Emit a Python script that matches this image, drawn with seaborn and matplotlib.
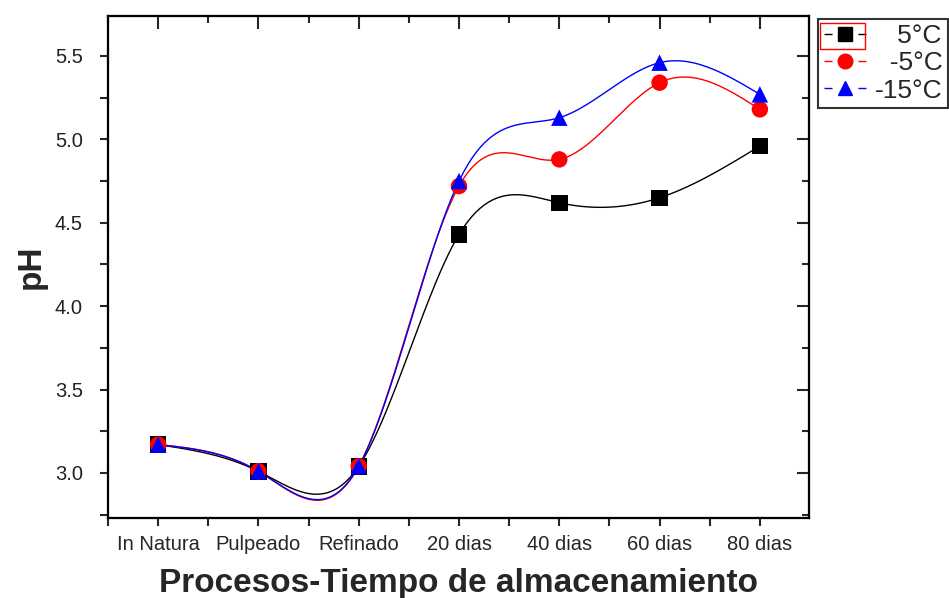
import numpy as np
import pandas as pd
import matplotlib
matplotlib.use("Agg")
import matplotlib.pyplot as plt
import seaborn as sns
from matplotlib.lines import Line2D
from matplotlib.patches import Rectangle
from matplotlib.ticker import MultipleLocator, FormatStrFormatter

categories = ["In Natura", "Pulpeado", "Refinado", "20 dias", "40 dias", "60 dias", "80 dias"]
ph_5 = [3.17, 3.01, 3.04, 4.43, 4.62, 4.65, 4.96]
ph_m5 = [3.17, 3.01, 3.04, 4.72, 4.88, 5.34, 5.18]
ph_m15 = [3.17, 3.01, 3.04, 4.75, 5.13, 5.46, 5.27]
series_names = ["5°C", "-5°C", "-15°C"]


def natural_spline(x, y, n=300):
    # natural cubic spline, like the smooth curve origin draws through the points
    x = np.asarray(x, float)
    y = np.asarray(y, float)
    k = len(x)
    h = np.diff(x)
    A = np.zeros((k, k))
    b = np.zeros(k)
    A[0, 0] = A[-1, -1] = 1
    for i in range(1, k - 1):
        A[i, i - 1] = h[i - 1]
        A[i, i] = 2 * (h[i - 1] + h[i])
        A[i, i + 1] = h[i]
        b[i] = 3 * ((y[i + 1] - y[i]) / h[i] - (y[i] - y[i - 1]) / h[i - 1])
    c = np.linalg.solve(A, b)
    xs = np.linspace(x[0], x[-1], n)
    idx = np.clip(np.searchsorted(x, xs) - 1, 0, k - 2)
    dx = xs - x[idx]
    bb = (y[idx + 1] - y[idx]) / h[idx] - h[idx] * (2 * c[idx] + c[idx + 1]) / 3
    d = (c[idx + 1] - c[idx]) / (3 * h[idx])
    ys = y[idx] + bb * dx + c[idx] * dx ** 2 + d * dx ** 3
    return xs, ys


sns.set_style("ticks")
plt.rcParams["font.family"] = ["Liberation Sans", "DejaVu Sans"]

pos = np.arange(len(categories))
pts = pd.DataFrame({
    "x": np.tile(pos, 3),
    "pH": ph_5 + ph_m5 + ph_m15,
    "serie": np.repeat(series_names, len(categories)),
})

curves = []
for name, vals in zip(series_names, [ph_5, ph_m5, ph_m15]):
    xs, ys = natural_spline(pos, vals)
    curves.append(pd.DataFrame({"x": xs, "pH": ys, "serie": name}))
curves = pd.concat(curves, ignore_index=True)

colors = {"5°C": "black", "-5°C": "red", "-15°C": "blue"}
markers = {"5°C": "s", "-5°C": "o", "-15°C": "^"}

fig = plt.figure(figsize=(9.49, 5.98), dpi=100)
ax = fig.add_axes([0.1138, 0.1338, 0.7387, 0.8395])

sns.lineplot(data=curves, x="x", y="pH", hue="serie", palette=colors,
             linewidth=1.0, legend=False, ax=ax, sort=False, estimator=None)
sns.scatterplot(data=pts, x="x", y="pH", hue="serie", style="serie",
                palette=colors, markers=markers, s=140, edgecolor="none",
                legend=False, ax=ax, zorder=5)

xlim = (-0.5, 6.49)
ylim = (2.73, 5.74)
ax.set_xlim(*xlim)
ax.set_ylim(*ylim)
ax.set_xticks(pos)
ax.set_xticklabels(categories, fontsize=14.5)
ax.xaxis.set_minor_locator(MultipleLocator(0.5))
ax.yaxis.set_major_locator(MultipleLocator(0.5))
ax.yaxis.set_minor_locator(MultipleLocator(0.25))
ax.yaxis.set_major_formatter(FormatStrFormatter("%.1f"))
ax.tick_params(axis="both", which="both", direction="out", length=6, width=1.5)
ax.tick_params(axis="y", labelsize=14.5, labelcolor="#222222", pad=12)
ax.tick_params(axis="x", pad=6)
for s in ax.spines.values():
    s.set_linewidth(1.5)
    s.set_color("black")

# top and right axes carry inward ticks, no labels
axt = ax.twiny()
axt.set_xlim(*xlim)
axt.set_xticks(pos)
axt.xaxis.set_minor_locator(MultipleLocator(0.5))
axt.tick_params(axis="x", which="major", direction="in", length=9, width=1.5, labeltop=False)
axt.tick_params(axis="x", which="minor", direction="in", length=5, width=1.5)
axr = ax.twinx()
axr.set_ylim(*ylim)
axr.yaxis.set_major_locator(MultipleLocator(0.5))
axr.yaxis.set_minor_locator(MultipleLocator(0.25))
axr.tick_params(axis="y", which="major", direction="in", length=9, width=1.5, labelright=False)
axr.tick_params(axis="y", which="minor", direction="in", length=5, width=1.5)
for a in (axt, axr):
    for s in a.spines.values():
        s.set_linewidth(1.5)
        s.set_color("black")

ax.set_xlabel("Procesos-Tiempo de almacenamiento", fontsize=24, fontweight="bold", labelpad=10)
ax.set_ylabel("pH", fontsize=24, fontweight="bold", labelpad=6)

handles = [Line2D([0], [0], color=colors[n], marker=markers[n], markersize=10.5,
                  linewidth=1.0, dashes=(5.8, 18.6)) for n in series_names]
labels = ["   5°C", "  -5°C", "-15°C"]
leg = fig.legend(handles, labels, loc="upper right", bbox_to_anchor=(948 / 949, 1 - 19 / 598),
                 borderaxespad=0, frameon=True, fancybox=False, edgecolor="black",
                 fontsize=19, handlelength=1.6, handletextpad=0.35, labelspacing=0.12,
                 borderpad=0.2)
leg.get_frame().set_linewidth(1.5)

# red selection box around the first legend handle
fig.patches.append(Rectangle((820 / 949, 1 - 49 / 598), 45 / 949, 26 / 598,
                             transform=fig.transFigure, fill=False,
                             edgecolor="red", linewidth=1.0, zorder=10))

fig.savefig("out.png", dpi=100, facecolor="white")
